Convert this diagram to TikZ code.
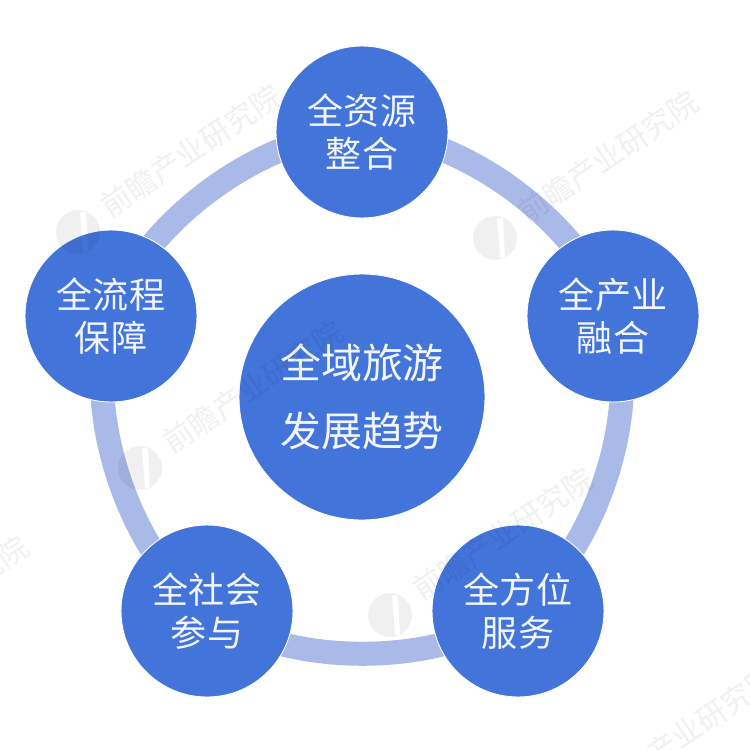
\documentclass[tikz,border=0pt]{standalone}
\usepackage{fontspec}
\setmainfont{Noto Sans CJK SC}
\usetikzlibrary{backgrounds}
\definecolor{topicblue}{HTML}{4274DA}
\definecolor{ringblue}{HTML}{A9B9E8}
\tikzset{
  topic/.style={circle, fill=topicblue, draw=white, line width=0.5pt, minimum size=3.44cm, inner sep=0pt, text=white!93!topicblue, align=center, font=\fontsize{20.5}{24.5}\selectfont},
  hub/.style={topic, minimum size=4.92cm, font=\fontsize{23.3}{38.7}\selectfont},
  ringpart/.style={ringblue, line width=0.48cm, looseness=0.8},
  markname/.style={rotate=34, text=black, text opacity=0.06, font=\fontsize{17}{20}\selectfont}
}
\begin{document}
\begin{tikzpicture}
[x=0.02cm, y=-0.02cm]
\useasboundingbox (0,0) rectangle (750,750);
\node [hub] (centre) at (362,397) {全域旅游\\发展趋势};
\node [topic] (resource) at (362,132) {全资源\\整合};
\node [topic] (industry) at (613,316) {全产业\\融合};
\node [topic] (service) at (518,611) {全方位\\服务};
\node [topic] (society) at (207,611) {全社会\\参与};
\node [topic] (process) at (111,316) {全流程\\保障};
\begin{pgfonlayer}{background}
\draw [ringpart] (resource.center) to [bend left=36] (industry.center);
\draw [ringpart] (industry.center) to [bend left=36] (service.center);
\draw [ringpart] (service.center) to [bend left=36] (society.center);
\draw [ringpart] (society.center) to [bend left=36] (process.center);
\draw [ringpart] (process.center) to [bend left=36] (resource.center);
\end{pgfonlayer}
% faint marks
\foreach \i/\mx/\my in {1/495/238, 2/140/468, 3/390/615, 4/78/232, 5/-175/683, 6/574/813} {
  \node [markname] (mark\i) at (\mx+113,\my-81) {前瞻产业研究院};
  \fill [black, opacity=0.06, even odd rule] (\mx,\my) circle [radius=22] (\mx+2,\my-20) -- (\mx+5,\my+20) -- (\mx+10,\my+20) -- (\mx+8,\my-20) -- cycle;
}
\end{tikzpicture}
\end{document}
